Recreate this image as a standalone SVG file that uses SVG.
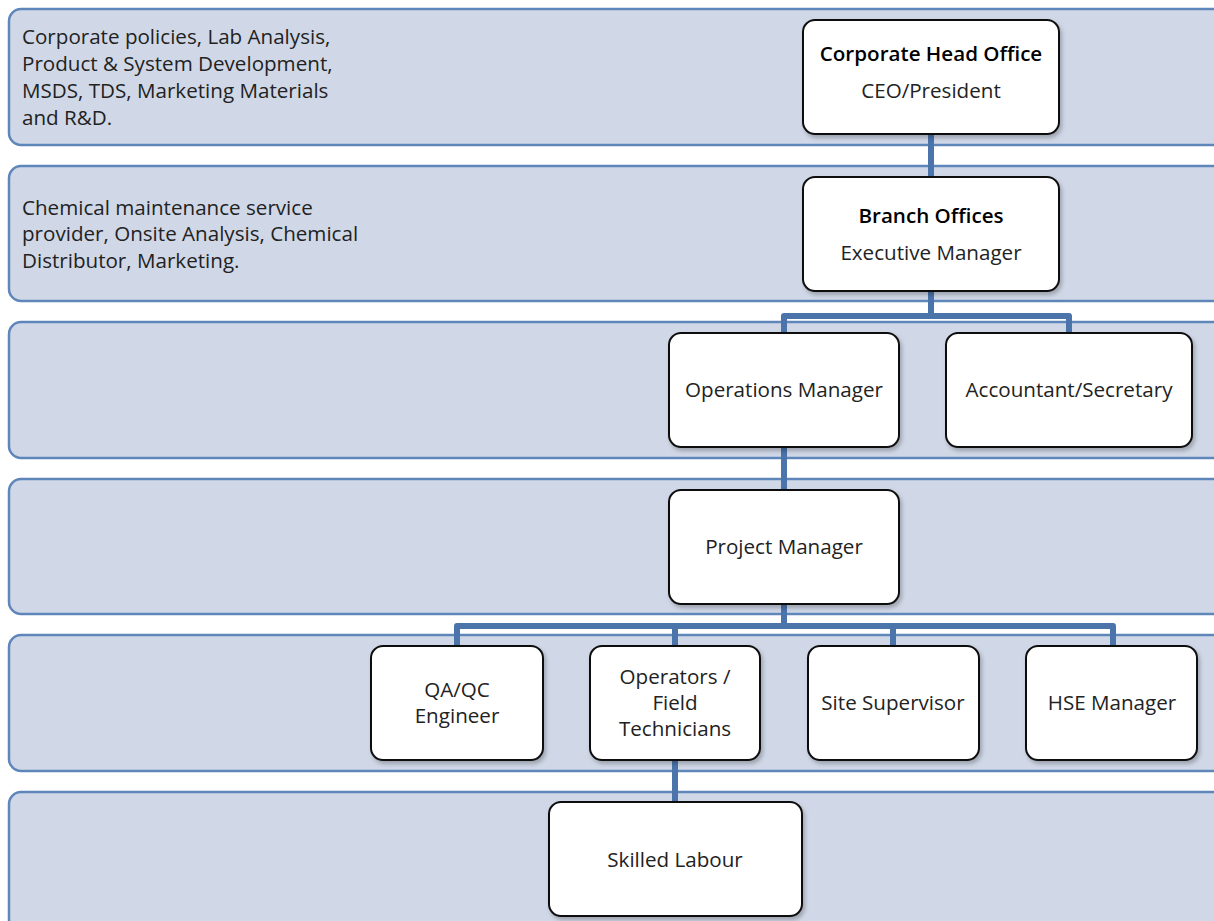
<svg xmlns="http://www.w3.org/2000/svg" width="1214" height="921" viewBox="0 0 1214 921">
<defs>
<filter id="sh" x="-10%" y="-10%" width="130%" height="130%">
<feDropShadow dx="2" dy="3" stdDeviation="2" flood-color="#000" flood-opacity="0.25"/>
</filter>
<style>
.band{fill:#D0D8E7;stroke:#5F86BA;stroke-width:2.5}
.node{fill:#fff;stroke:#111;stroke-width:2;filter:url(#sh)}
.t{font-family:"Open Sans","Liberation Sans",sans-serif;font-size:20.6px;fill:#222}
.c{text-anchor:middle}
.b{font-weight:600;fill:#000}
.conn{fill:none;stroke:#4A74AA;stroke-width:6;stroke-linejoin:round}
</style>
</defs>
<rect width="1214" height="921" fill="#fff"/>
<g id="bands">
<rect class="band" x="9" y="9" width="1220" height="136" rx="12"/>
<rect class="band" x="9" y="166" width="1220" height="135" rx="12"/>
<rect class="band" x="9" y="322" width="1220" height="136" rx="12"/>
<rect class="band" x="9" y="479" width="1220" height="135" rx="12"/>
<rect class="band" x="9" y="635" width="1220" height="136" rx="12"/>
<rect class="band" x="9" y="792" width="1220" height="150" rx="12"/>
<text class="t" x="22" y="44">Corporate policies, Lab Analysis,</text>
<text class="t" x="22" y="71">Product &amp; System Development,</text>
<text class="t" x="22" y="98">MSDS, TDS, Marketing Materials</text>
<text class="t" x="22" y="125">and R&amp;D.</text>
<text class="t" x="22" y="215">Chemical maintenance service</text>
<text class="t" x="22" y="241">provider, Onsite Analysis, Chemical</text>
<text class="t" x="22" y="268">Distributor, Marketing.</text>
</g>
<g id="connectors">
<path class="conn" d="M931 134V177"/>
<path class="conn" d="M931 291V316M784 333V316H1069V333"/>
<path class="conn" d="M784 447V490"/>
<path class="conn" d="M784 604V626M457 646V626H1113V646M675 626V646M893 626V646"/>
<path class="conn" d="M675 760V802"/>
</g>
<g id="n-head"><rect class="node" x="803" y="20" width="256" height="114" rx="12"/>
<text class="t c b" x="931" y="61">Corporate Head Office</text>
<text class="t c" x="931" y="98">CEO/President</text></g>
<g id="n-branch"><rect class="node" x="803" y="177" width="256" height="114" rx="12"/>
<text class="t c b" x="931" y="223">Branch Offices</text>
<text class="t c" x="931" y="260">Executive Manager</text></g>
<g id="n-ops"><rect class="node" x="669" y="333" width="230" height="114" rx="12"/>
<text class="t c" x="784" y="397">Operations Manager</text></g>
<g id="n-acct"><rect class="node" x="946" y="333" width="246" height="114" rx="12"/>
<text class="t c" x="1069" y="397">Accountant/Secretary</text></g>
<g id="n-proj"><rect class="node" x="669" y="490" width="230" height="114" rx="12"/>
<text class="t c" x="784" y="554">Project Manager</text></g>
<g id="n-qa"><rect class="node" x="371" y="646" width="172" height="114" rx="12"/>
<text class="t c" x="457" y="697">QA/QC</text>
<text class="t c" x="457" y="723">Engineer</text></g>
<g id="n-opr"><rect class="node" x="590" y="646" width="170" height="114" rx="12"/>
<text class="t c" x="675" y="684">Operators /</text>
<text class="t c" x="675" y="710">Field</text>
<text class="t c" x="675" y="736">Technicians</text></g>
<g id="n-site"><rect class="node" x="808" y="646" width="171" height="114" rx="12"/>
<text class="t c" x="893" y="710">Site Supervisor</text></g>
<g id="n-hse"><rect class="node" x="1026" y="646" width="171" height="114" rx="12"/>
<text class="t c" x="1112" y="710">HSE Manager</text></g>
<g id="n-skill"><rect class="node" x="549" y="802" width="253" height="114" rx="12"/>
<text class="t c" x="675" y="867">Skilled Labour</text></g>
</svg>
